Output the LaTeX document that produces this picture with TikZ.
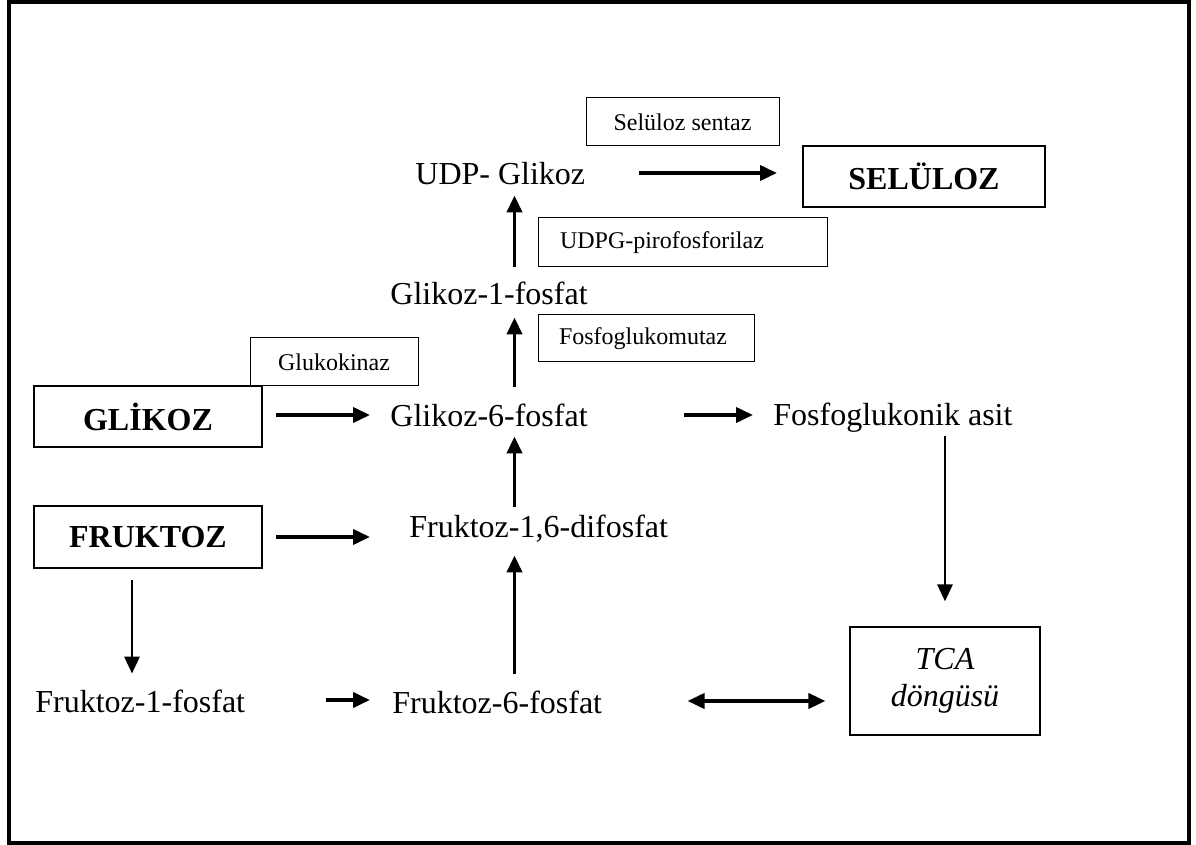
\documentclass[tikz,border=0pt]{standalone}
\usepackage{fontspec}
\setmainfont{Liberation Serif}
\usetikzlibrary{arrows.meta}

\begin{document}
\begin{tikzpicture}[
    x=0.5pt, y=-0.5pt,
    lbl/.style={inner sep=0pt, anchor=base west, text height=12pt, text depth=0pt, font=\fontsize{16}{19}\selectfont},
    enz/.style={draw, line width=0.5pt, inner sep=0pt, font=\fontsize{12}{14}\selectfont},
    sugar/.style={draw, line width=1pt, inner sep=0pt, minimum width=114pt, font=\fontsize{16}{19}\selectfont\bfseries},
    arr/.style={-{Triangle[length=8.5pt,width=7.5pt]}, line width=1.9pt},
    thinarr/.style={arr, line width=1.4pt},
    dblarr/.style={{Triangle[length=8.5pt,width=7.5pt]}-{Triangle[length=8.5pt,width=7.5pt]}, line width=1.9pt}
]
    \useasboundingbox (0,0) rectangle (1196,845);
    \draw[line width=1.7pt] (9,2) rectangle (1189,843);

    \node[enz, minimum width=96.5pt, minimum height=24pt] (sentaz) at (682.5,122) {Selüloz sentaz};
    \node[lbl] (udp) at (415,185) {UDP- Glikoz};
    \node[sugar, minimum width=121pt, minimum height=30.5pt] (sel) at (924,176.5) {SELÜLOZ};
    \node[enz, minimum height=24.5pt, text width=122.5pt, inner xsep=11pt, align=left] (udpg) at (682.5,242.5) {UDPG-pirofosforilaz};
    \node[lbl] (g1p) at (390,305) {Glikoz-1-fosfat};
    \node[enz, minimum height=23.5pt, text width=87pt, inner xsep=10.5pt, align=left] (mutaz) at (646,338.5) {Fosfoglukomutaz};
    \node[enz, minimum width=84pt, minimum height=24pt] (kinaz) at (334,362) {Glukokinaz};
    \node[sugar, minimum height=30.5pt] (gli) at (148,416.5) {GLİKOZ};
    \node[lbl] (g6p) at (390,427) {Glikoz-6-fosfat};
    \node[lbl] (fga) at (773,426) {Fosfoglukonik asit};
    \node[sugar, minimum height=31pt] (fru) at (148,537) {FRUKTOZ};
    \node[lbl] (f16) at (409,538) {Fruktoz-1,6-difosfat};
    \node[lbl] (f1p) at (35,712) {Fruktoz-1-fosfat};
    \node[lbl] (f6p) at (392,713) {Fruktoz-6-fosfat};
    \node[draw, line width=0.6pt, minimum width=95pt, minimum height=54pt, align=center, font=\fontsize{16}{18.5}\selectfont\itshape] (tca) at (945,681) {TCA\\döngüsü};

    \coordinate (mid) at (514.5,0);

    \draw[arr, shorten <=26.5pt, shorten >=12.5pt] (udp.east) -- (udp.east -| sel.west);
    \draw[arr, shorten <=7pt, shorten >=5pt] (g1p.north -| mid) -- (udp.south -| mid);
    \draw[arr, shorten <=8pt, shorten >=6pt] (g6p.north -| mid) -- (g1p.south -| mid);
    \draw[arr, shorten <=6.5pt, shorten >=10pt] (g6p.west -| gli.east) -- (g6p.west);
    \draw[arr, shorten <=48pt, shorten >=10pt] (g6p.east) -- (g6p.east -| fga.west);
    \draw[thinarr, shorten <=5pt, shorten >=12.5pt] (fga.south -| tca) -- (tca.north);
    \draw[arr, shorten <=3.5pt, shorten >=4.5pt] (f16.north -| mid) -- (g6p.south -| mid);
    \draw[arr, shorten <=6.5pt, shorten >=19.5pt] (fru.east) -- (fru.east -| f16.west);
    \draw[arr, shorten <=7.5pt, shorten >=8.5pt] (f6p.north -| mid) -- (f16.south -| mid);
    \draw[thinarr, shorten <=5.5pt, shorten >=7pt] ([xshift=-8pt]fru.south) -- ([xshift=-8pt]fru.south |- f1p.north);
    \draw[arr, shorten <=40pt, shorten >=11pt] (f1p.east) -- (f1p.east -| f6p.west);
    \draw[dblarr, shorten <=42.5pt, shorten >=12pt] (f6p.east) -- (f6p.east -| tca.west);
\end{tikzpicture}
\end{document}
